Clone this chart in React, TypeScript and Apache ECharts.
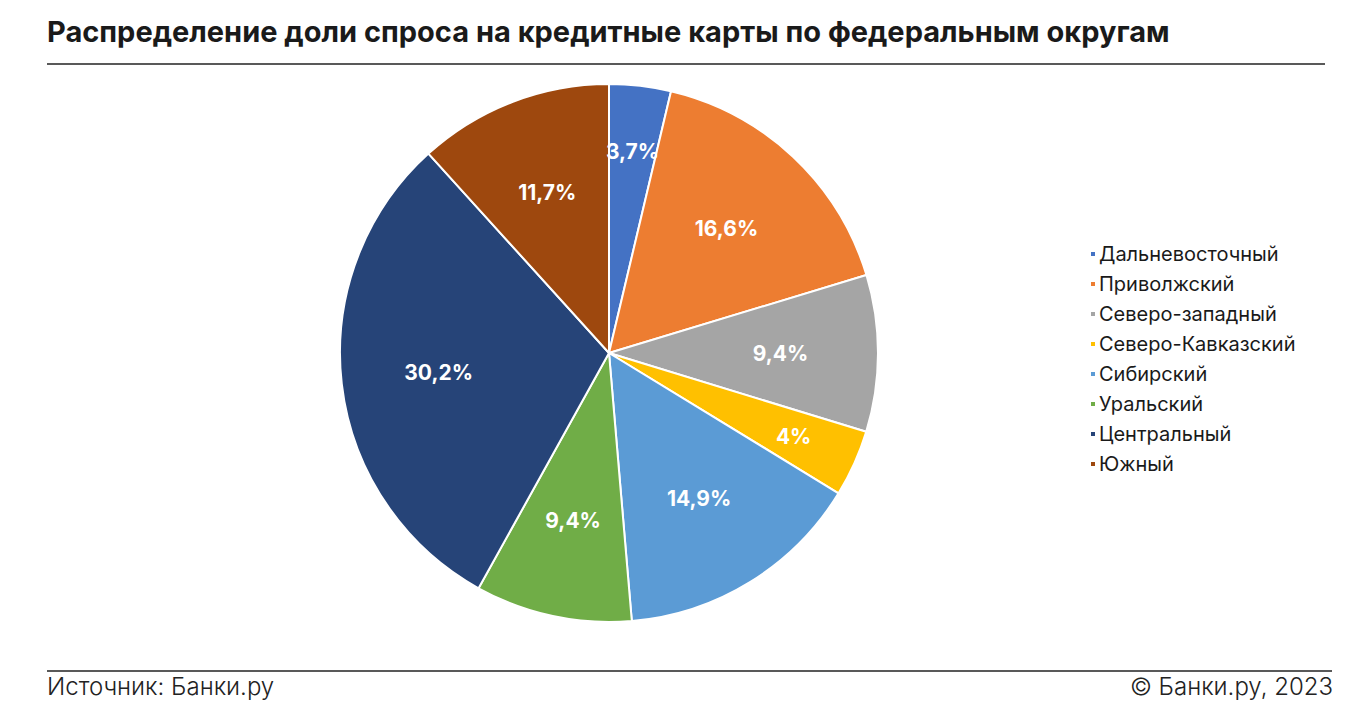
import React, { useEffect, useRef } from "react";
import * as echarts from "echarts";

const TITLE = "Распределение доли спроса на кредитные карты по федеральным округам";
const SOURCE = "Источник: Банки.ру";
const COPYRIGHT = "© Банки.ру, 2023";

const regions = [
  "Дальневосточный",
  "Приволжский",
  "Северо-западный",
  "Северо-Кавказский",
  "Сибирский",
  "Уральский",
  "Центральный",
  "Южный",
];
const shares = [3.7, 16.6, 9.4, 4, 14.9, 9.4, 30.2, 11.7];
const colors = ["#4472C4", "#ED7D31", "#A5A5A5", "#FFC000", "#5B9BD5", "#70AD47", "#264478", "#9E480E"];

const FONT = "Inter, 'Noto Sans', sans-serif";
const SMALL_SLICE = 5;

export default function App() {
  const ref = useRef<HTMLDivElement>(null);
  useEffect(() => {
    if (!ref.current) return;
    const chart = echarts.init(ref.current, undefined, { renderer: "svg" });
    const data = regions.map((name, i) => ({ name, value: shares[i] }));
    const fmt = (v: number) => String(v).replace(".", ",") + "%";
    const labelStyle = {
      show: true,
      position: "inside",
      color: "#ffffff",
      fontSize: 21,
      fontWeight: "bold",
      fontFamily: FONT,
    };
    const overlay = (r0: number, pick: (v: number) => boolean) => ({
      type: "pie",
      center: [609, 353],
      radius: [r0, 269],
      startAngle: 90,
      clockwise: true,
      silent: true,
      z: 5,
      data: data.map((d) => ({ ...d, itemStyle: { color: "rgba(0,0,0,0)" } })),
      label: { ...labelStyle, formatter: (p: any) => (pick(p.value) ? fmt(p.value) : "") },
      labelLine: { show: false },
      itemStyle: { borderWidth: 0 },
      emphasis: { disabled: true },
      legendHoverLink: false,
    });
    chart.setOption({
      animation: false,
      backgroundColor: "#ffffff",
      color: colors,
      textStyle: { fontFamily: FONT },
      legend: {
        orient: "vertical",
        left: 1084,
        top: 239,
        data: regions,
        icon: "rect",
        itemWidth: 6,
        itemHeight: 6,
        itemGap: 10,
        selectedMode: false,
        textStyle: { fontSize: 20, lineHeight: 20, color: "#1a1a1a", fontFamily: FONT, padding: [0, 0, 0, -2] },
      },
      graphic: [
        {
          type: "text",
          left: 47,
          top: 17,
          style: { text: TITLE, fontSize: 29, fontWeight: "bold", fill: "#1a1a1a", fontFamily: FONT },
        },
        { type: "line", shape: { x1: 47, y1: 64, x2: 1325, y2: 64 }, style: { stroke: "#222", lineWidth: 1.5 } },
        { type: "line", shape: { x1: 47, y1: 671, x2: 1332, y2: 671 }, style: { stroke: "#222", lineWidth: 1.5 } },
        {
          type: "text",
          left: 47,
          top: 674,
          style: { text: SOURCE, fontSize: 24, fontWeight: 300, fill: "#222", fontFamily: FONT },
        },
        {
          type: "text",
          right: 33,
          top: 674,
          style: { text: COPYRIGHT, fontSize: 24, fontWeight: 300, fill: "#222", fontFamily: FONT },
        },
      ],
      series: [
        {
          type: "pie",
          center: [609, 353],
          radius: [0, 269],
          startAngle: 90,
          clockwise: true,
          data,
          label: { show: false },
          labelLine: { show: false },
          itemStyle: { borderColor: "#ffffff", borderWidth: 2 },
          emphasis: { disabled: true },
        },
        overlay(68, (v) => v >= SMALL_SLICE),
        overlay(130, (v) => v < SMALL_SLICE),
      ],
    });
    return () => chart.dispose();
  }, []);
  return <div ref={ref} style={{ position: "fixed", left: 0, top: 0, width: 1366, height: 720 }} />;
}
